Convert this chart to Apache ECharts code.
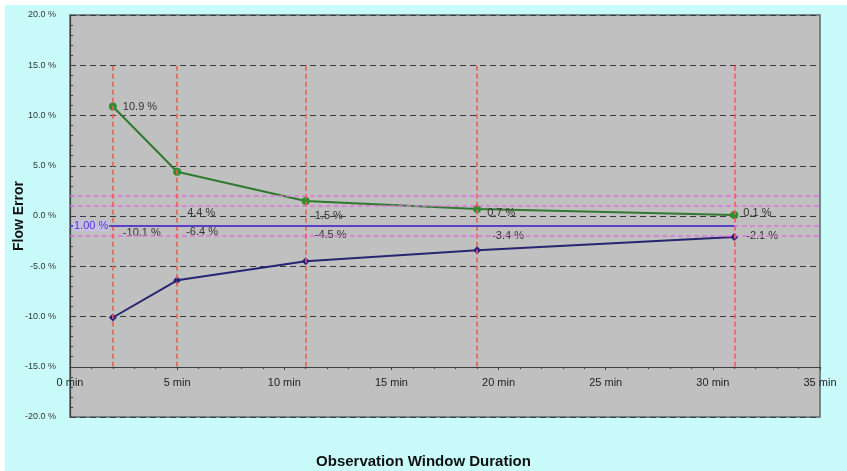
<!DOCTYPE html>
<html>
<head>
<meta charset="utf-8">
<script src="https://cdn.jsdelivr.net/npm/echarts@6/dist/echarts.min.js"></script>
<style>
  html, body { margin: 0; padding: 0; background: #ffffff; }
  #chart { width: 847px; height: 471px; }
</style>
</head>
<body>
<div id="chart"></div>
<script>
// observation windows (min) and the flow error envelope (%)
const durations = [2, 5, 11, 19, 31]
const upperError = [10.9, 4.4, 1.5, 0.7, 0.1]
const lowerError = [-10.1, -6.4, -4.5, -3.4, -2.1]
const toleranceLines = [2, 1, -1, -2]
const referenceLevel = -1
const referenceLabel = '1.00 %'
const xTicks = [0, 5, 10, 15, 20, 25, 30, 35]
const yTicks = [-20, -15, -10, -5, 0, 5, 10, 15, 20]

// label nudges (px), the labels were hand-placed in the original
const upperShift = [[1, 1], [1, 41], [0, 15], [1, 4], [0, -2]]
const lowerShift = [[1, -85], [0, -48], [0, -26], [6, -14], [3, -1]]

const font = '"Liberation Sans Narrow", "Liberation Sans", Arial, sans-serif'
const chart = echarts.init(document.getElementById('chart'))

const pct = (v) => `${v.toFixed(1)} %`

chart.setOption({
  backgroundColor: '#c9fbfb',
  animation: false,
  textStyle: { fontFamily: font },
  graphic: [
    { type: 'rect', left: 0, top: 0, shape: { width: 847, height: 5 }, style: { fill: '#ffffff' } },
    { type: 'rect', left: 0, top: 0, shape: { width: 5, height: 471 }, style: { fill: '#ffffff' } },
    {
      type: 'text', left: 'center', top: 454,
      style: { text: 'Observation Window Duration', font: `bold 15px ${font}`, fill: '#111', x: -13 },
    },
  ],
  grid: {
    left: 70, right: 27, top: 15, bottom: 54,
    outerBoundsMode: 'none',
    containLabel: false,
    show: true, backgroundColor: '#c0c0c0', borderColor: '#5a6868', borderWidth: 1.5,
  },
  xAxis: {
    type: 'value',
    min: xTicks[0], max: xTicks[xTicks.length - 1], interval: 5,
    offset: -50,
    axisLine: { onZero: false, lineStyle: { color: '#404040', width: 1.2 } },
    axisTick: { show: true, length: 3, inside: false, lineStyle: { color: '#404040' } },
    minorTick: { show: true, splitNumber: 5, length: 2, lineStyle: { color: '#404040' } },
    axisLabel: { formatter: (v) => `${v} min`, color: '#222', fontSize: 11, margin: 10 },
    splitLine: { show: false },
  },
  yAxis: {
    type: 'value',
    min: yTicks[0], max: yTicks[yTicks.length - 1], interval: 5,
    name: 'Flow Error', nameLocation: 'middle', nameGap: 44, nameRotate: 90,
    nameMoveOverlap: false,
    nameTextStyle: { fontSize: 14, fontWeight: 'bold', color: '#111' },
    axisLine: { show: true, lineStyle: { color: '#404040', width: 1.2 } },
    axisTick: { show: true, inside: true, length: 4, lineStyle: { color: '#404040' } },
    minorTick: { show: true, splitNumber: 5, length: 3, lineStyle: { color: '#404040' } },
    axisLabel: { formatter: pct, color: '#333', fontSize: 9, margin: 14 },
    splitLine: { show: true, lineStyle: { color: '#3a3a3a', type: [6, 4], width: 1 } },
  },
  series: [
    {
      name: 'tolerance',
      type: 'line',
      data: [],
      silent: true,
      z: 1,
      markLine: {
        silent: true,
        symbol: 'none',
        label: { show: false },
        lineStyle: { color: '#e070e0', type: [5, 3], width: 1.5 },
        data: toleranceLines.map((v) => ({ yAxis: v })),
      },
    },
    {
      name: 'windows',
      type: 'line',
      data: [],
      silent: true,
      z: 1,
      markLine: {
        silent: true,
        symbol: 'none',
        label: { show: false },
        lineStyle: { color: '#f05a5a', type: [5, 3], width: 1.6 },
        data: durations.map((d) => [{ coord: [d, -15] }, { coord: [d, 15] }]),
      },
    },
    {
      name: 'reference',
      type: 'line',
      data: [],
      silent: true,
      z: 1,
      markLine: {
        silent: true,
        symbol: 'none',
        lineStyle: { color: '#5b3fc8', type: 'solid', width: 2 },
        label: {
          show: true, position: 'insideStart', distance: 3,
          formatter: referenceLabel, color: '#4a3ad8', fontSize: 11,
          backgroundColor: '#c6bde0', padding: [0, 1],
        },
        data: [[
          { coord: [xTicks[0], referenceLevel] },
          { coord: [durations[durations.length - 1], referenceLevel] },
        ]],
      },
    },
    {
      name: 'upper',
      type: 'line',
      data: durations.map((d, i) => ({
        value: [d, upperError[i]],
        label: { offset: upperShift[i] },
      })),
      symbol: 'circle',
      symbolSize: 8,
      lineStyle: { color: '#2f7a2f', width: 2 },
      itemStyle: { color: '#2f8f2f' },
      label: {
        show: true, position: 'right', distance: 5,
        formatter: (p) => pct(p.value[1]), color: '#333', fontSize: 11,
      },
      z: 3,
    },
    {
      name: 'lower',
      type: 'line',
      data: durations.map((d, i) => ({
        value: [d, lowerError[i]],
        label: { offset: lowerShift[i] },
      })),
      symbol: 'diamond',
      symbolSize: 8,
      lineStyle: { color: '#262670', width: 2 },
      itemStyle: { color: '#2a2080' },
      label: {
        show: true, position: 'right', distance: 5,
        formatter: (p) => pct(p.value[1]), color: '#333', fontSize: 11,
      },
      z: 3,
    },
  ],
})

window.addEventListener('resize', () => chart.resize())
</script>
</body>
</html>
